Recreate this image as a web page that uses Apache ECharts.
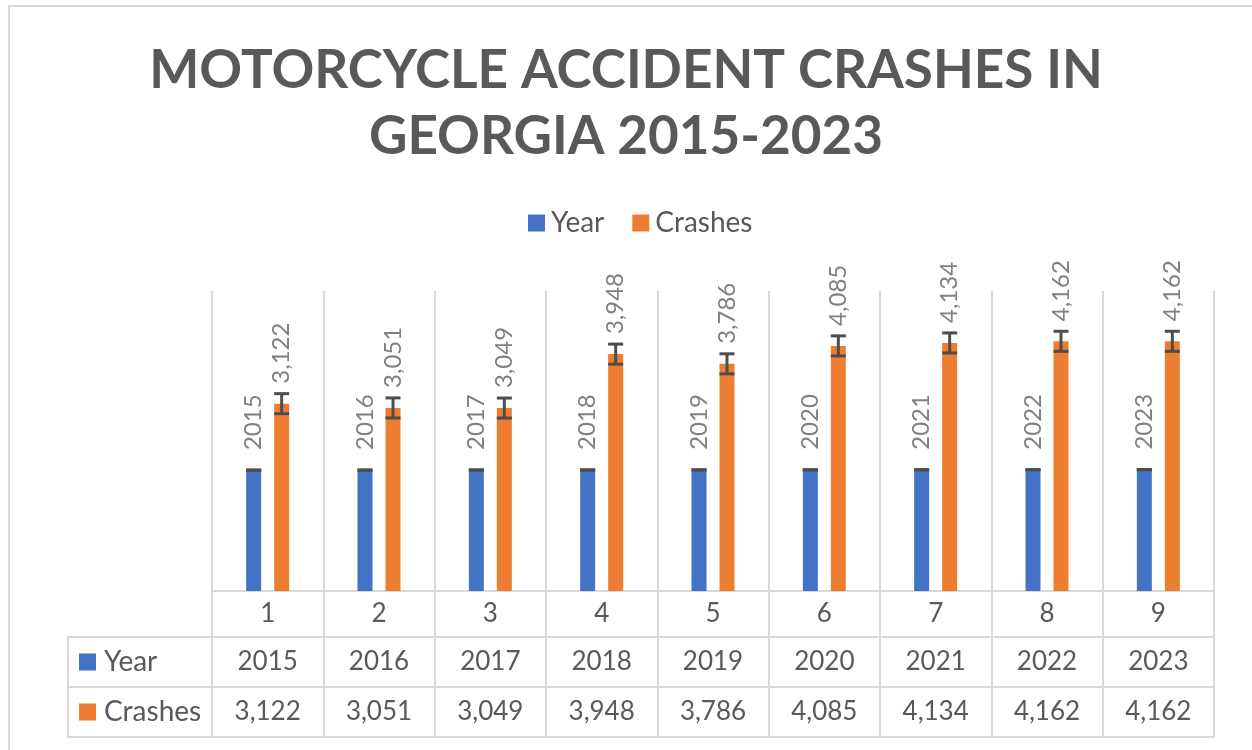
<!DOCTYPE html>
<html>
<head>
<meta charset="utf-8">
<script src="https://cdn.jsdelivr.net/npm/echarts@6/dist/echarts.min.js"></script>
<style>
html,body{margin:0;padding:0;background:#fff;}
#c{width:1252px;height:750px;}
</style>
</head>
<body>
<div id="c"></div>
<script>
// ---- data ----
const titleText = 'MOTORCYCLE ACCIDENT CRASHES IN\nGEORGIA 2015-2023';
const categories = ['1', '2', '3', '4', '5', '6', '7', '8', '9'];
const years = [2015, 2016, 2017, 2018, 2019, 2020, 2021, 2022, 2023];
const crashes = [3122, 3051, 3049, 3948, 3786, 4085, 4134, 4162, 4162];
const seriesNames = ['Year', 'Crashes'];
const yearError = [1];      // error bar half-length (same for all points)
const crashError = [167];

// ---- style / layout ----
const FONT = 'Lato';
const BLUE = '#4472C4', ORANGE = '#ED7D31';
const GRID_COL = '#d9d9d9';
const TEXT_COL = '#595959';
const LABEL_COL = '#808080';
const ERR_COL = '#4d4d4d';
const BAR_W = 15, BAR_GAP = 13;
const OFF = (BAR_W + BAR_GAP) / 2;
const gridLeft = 212, gridRight = 1214, gridTop = 291, gridBottom = 591;
const tableLeft = 68, rowLines = [637, 687, 737];

const fmt = v => v.toLocaleString('en-US');

function errSeries(name, values, err, sign) {
  return {
    name: name + ' error',
    type: 'custom',
    z: 5,
    silent: true,
    data: values.map((v, i) => [i, v]),
    renderItem: function (params, api) {
      const i = api.value(0), v = api.value(1);
      const hi = api.coord([i, v + err]);
      const lo = api.coord([i, v - err]);
      const x = hi[0] + sign * OFF;
      const half = BAR_W / 2;
      const st = { stroke: ERR_COL, lineWidth: 3 };
      return {
        type: 'group',
        children: [
          { type: 'line', shape: { x1: x, y1: hi[1], x2: x, y2: lo[1] }, style: st },
          { type: 'line', shape: { x1: x - half, y1: hi[1], x2: x + half, y2: hi[1] }, style: st },
          { type: 'line', shape: { x1: x - half, y1: lo[1], x2: x + half, y2: lo[1] }, style: st }
        ]
      };
    }
  };
}

const chart = echarts.init(document.getElementById('c'), null, { renderer: 'canvas' });

const graphics = [
  { type: 'rect', shape: { x: 9, y: 6, width: 1300, height: 800 },
    style: { fill: 'none', stroke: GRID_COL, lineWidth: 2 }, z: 0 },
  { type: 'line', shape: { x1: tableLeft, y1: rowLines[0], x2: tableLeft, y2: rowLines[2] },
    style: { stroke: GRID_COL, lineWidth: 2 } }
];
rowLines.forEach(y => graphics.push({
  type: 'line', shape: { x1: tableLeft - 1, y1: y, x2: gridRight + 1, y2: y },
  style: { stroke: GRID_COL, lineWidth: 2 }
}));

chart.setOption({
  animation: false,
  backgroundColor: '#fff',
  title: {
    text: titleText,
    left: 'center',
    top: 33,
    textStyle: { fontFamily: FONT, fontSize: 53, fontWeight: 'bold', color: TEXT_COL, lineHeight: 66 }
  },
  legend: [
    {
      data: seriesNames,
      top: 204,
      left: 523,
      icon: 'rect',
      itemWidth: 17, itemHeight: 17,
      itemGap: 28,
      textStyle: { fontFamily: FONT, fontSize: 28, color: TEXT_COL, padding: [0, 0, 0, 1] }
    },
    {
      data: seriesNames,
      orient: 'vertical',
      left: 74,
      top: 642,
      icon: 'rect',
      itemWidth: 17, itemHeight: 17,
      itemGap: 20,
      selectedMode: false,
      textStyle: { fontFamily: FONT, fontSize: 28, color: TEXT_COL, lineHeight: 30, padding: [0, 0, 0, 3] }
    }
  ],
  graphic: graphics,
  grid: { left: gridLeft, top: gridTop, width: gridRight - gridLeft, height: gridBottom - gridTop, containLabel: false },
  xAxis: {
    type: 'category',
    data: categories,
    boundaryGap: true,
    axisLine: { show: true, lineStyle: { color: GRID_COL, width: 2 } },
    axisTick: { show: true, length: 146, lineStyle: { color: GRID_COL, width: 2 } },
    splitLine: { show: true, lineStyle: { color: GRID_COL, width: 2 } },
    axisLabel: {
      margin: 0,
      interval: 0,
      formatter: (v, i) => `{n|${v}}\n{y|${years[i]}}\n{c|${fmt(crashes[i])}}`,
      rich: {
        n: { fontFamily: FONT, fontSize: 26, color: TEXT_COL, lineHeight: 46, align: 'center' },
        y: { fontFamily: FONT, fontSize: 26, color: TEXT_COL, lineHeight: 50, align: 'center' },
        c: { fontFamily: FONT, fontSize: 26, color: TEXT_COL, lineHeight: 50, align: 'center' }
      }
    }
  },
  yAxis: {
    type: 'value', min: 0, max: 5000,
    show: false,
    splitLine: { show: false }
  },
  series: [
    {
      name: 'Year', type: 'bar', data: years,
      barWidth: BAR_W, barGap: (BAR_GAP / BAR_W * 100) + '%',
      itemStyle: { color: BLUE },
      label: {
        show: true, position: 'top', rotate: 90, align: 'left', verticalAlign: 'middle',
        distance: 20, fontFamily: FONT, fontSize: 24, color: LABEL_COL,
        formatter: p => String(p.value)
      }
    },
    {
      name: 'Crashes', type: 'bar', data: crashes,
      barWidth: BAR_W,
      itemStyle: { color: ORANGE },
      label: {
        show: true, position: 'top', rotate: 90, align: 'left', verticalAlign: 'middle',
        distance: 20, fontFamily: FONT, fontSize: 24, color: LABEL_COL,
        formatter: p => fmt(p.value)
      }
    },
    errSeries('Year', years, yearError[0], -1),
    errSeries('Crashes', crashes, crashError[0], 1)
  ]
});
</script>
</body>
</html>
